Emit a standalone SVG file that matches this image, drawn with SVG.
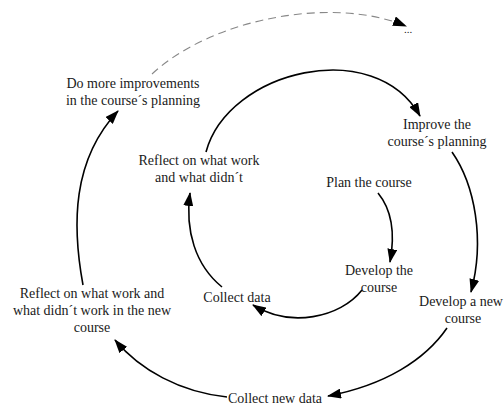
<svg xmlns="http://www.w3.org/2000/svg" width="504" height="408" viewBox="0 0 504 408">
<defs>
<marker id="ah" markerUnits="userSpaceOnUse" markerWidth="14" markerHeight="10" viewBox="0 0 14 10" refX="13" refY="5" orient="auto">
<path d="M0,0 L14,5 L0,10 Z" fill="#000"/>
</marker>
</defs>
<style>
text{font-family:'Liberation Serif','Times New Roman',serif;font-size:14px;fill:#1a1a1a;text-anchor:middle}
.c{fill:none;stroke:#000;stroke-width:1.6;marker-end:url(#ah)}
.d{fill:none;stroke:#888;stroke-width:1.1;stroke-dasharray:8 5;marker-end:url(#ah)}
</style>
<rect width="504" height="408" fill="#fff"/>
<g id="connectors">
<path class="d" d="M152,74 C210,20 330,-5 406,26"/>
<path class="c" d="M206,152 C228,70 375,35 420,116"/>
<path class="c" d="M452,152 C475,185 485,240 471,292"/>
<path class="c" d="M378,193 C392,210 395,235 390,262"/>
<path class="c" d="M362,290 C340,318 290,328 253,305"/>
<path class="c" d="M222,287 C195,265 185,230 190,193"/>
<path class="c" d="M447,328 C425,360 385,385 328,396"/>
<path class="c" d="M227,397 C180,392 140,370 115,340"/>
<path class="c" d="M83,285 C72,225 72,160 118,111"/>
</g>
<g font-family="Liberation Serif, serif" font-size="14">
<g id="n_more"><text x="133" y="88">Do more improvements</text><text x="133" y="105">in the course´s planning</text></g>
<g id="n_dots"><text x="408" y="33" style="font-size:11px">...</text></g>
<g id="n_improve"><text x="437" y="129">Improve the</text><text x="437" y="146">course´s planning</text></g>
<g id="n_reflect1"><text x="199" y="165">Reflect on what work</text><text x="199" y="182">and what didn´t</text></g>
<g id="n_plan"><text x="369" y="187">Plan the course</text></g>
<g id="n_develop1"><text x="379" y="275">Develop the</text><text x="379" y="292">course</text></g>
<g id="n_collect1"><text x="237" y="302">Collect data</text></g>
<g id="n_reflect2"><text x="92" y="298">Reflect on what work and</text><text x="92" y="315">what didn´t work in the new</text><text x="92" y="332">course</text></g>
<g id="n_develop2"><text x="461" y="306">Develop a new</text><text x="463" y="323">course</text></g>
<g id="n_collect2"><text x="275" y="403">Collect new data</text></g>
</g>
</svg>
